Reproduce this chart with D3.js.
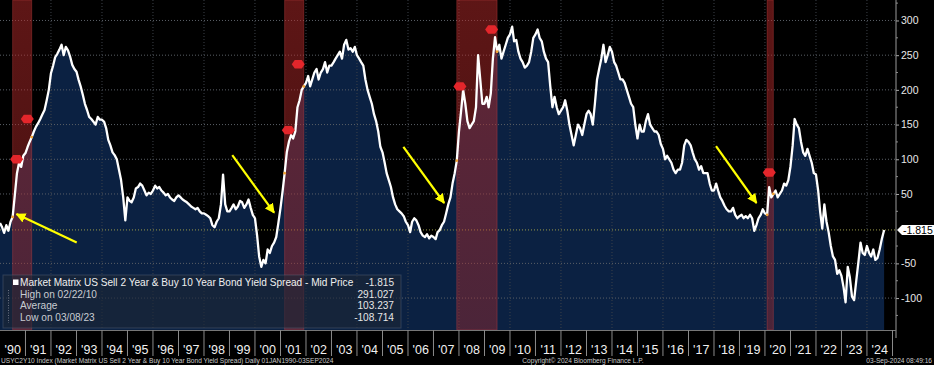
<!DOCTYPE html>
<html>
<head>
<meta charset="utf-8">
<script src="https://cdn.jsdelivr.net/npm/d3@7"></script>
<style>
body { margin: 0; background: #000; }
svg { display: block; font-family: "Liberation Sans", Arial, sans-serif; }
</style>
</head>
<body>
<div id="chart"></div>
<script>
// USYC2Y10 spread, bp, monthly readings (Jan of each decade onwards)
var spread1990s = [
    8, 2, -6, 5, -3, 10, 17, 48, 80, 95, 89, 105,
    109, 118, 125, 132, 140, 147, 152, 158, 165, 171, 185, 200,
    224, 235, 247, 252, 258, 265, 250, 262, 257, 248, 236, 230,
    226, 214, 205, 193, 180, 171, 161, 158, 154, 150, 161, 157,
    157, 154, 145, 128, 120, 110, 106, 100, 85, 70, 45, 12,
    45, 40, 38, 45, 58, 60, 65, 62, 55, 48, 52, 50,
    55, 62, 58, 60, 55, 52, 48, 50, 45, 42, 40, 45,
    48, 45, 42, 40, 38, 35, 32, 30, 28, 30, 25, 22,
    22, 20, 18, 15, 5, 2, 10, 15, 35, 78, 35, 25,
    25, 30, 35, 28, 32, 40, 38, 30, 35, 42, 30, 20
];
var spread2000s = [
    15, -10, -40, -55, -45, -50, -30, -35, -25, -20, -12, 8,
    30, 55, 80, 110, 125, 135, 130, 140, 175, 185, 200, 205,
    210, 220, 205, 215, 225, 230, 215, 225, 230, 240, 225, 235,
    235, 240, 245, 250, 255, 245, 265, 272, 258, 260, 255, 262,
    250, 245, 240, 235, 215, 200, 190, 180, 165, 155, 140, 118,
    110, 95, 80, 70, 60, 45, 35, 28, 25, 22, 18, 10,
    5, -5, 10, 15, 12, 5, -5, -10, -12, -8, -14, -10,
    -12, -15, -5, -2, 5, 10, 22, 35, 45, 65, 80, 98,
    140, 170, 200, 180, 155, 145, 150, 155, 175, 250, 215, 180,
    180, 190, 175, 195, 245, 276, 255, 265, 245, 255, 265, 275
];
var spread2010s = [
    280, 291, 270, 272, 255, 245, 240, 232, 235, 240, 255, 275,
    280, 287, 275, 270, 255, 245, 240, 205, 175, 190, 175, 165,
    170, 175, 185, 170, 150, 135, 120, 135, 150, 145, 135, 150,
    165, 170, 165, 150, 180, 215, 230, 245, 265, 240, 250, 262,
    255, 240, 235, 225, 215, 215, 210, 200, 190, 180, 175, 150,
    130, 150, 140, 140, 155, 165, 150, 145, 140, 140, 135, 122,
    115, 100, 105, 100, 95, 85, 80, 85, 85, 95, 120, 128,
    125, 120, 110, 100, 95, 85, 90, 80, 80, 80, 65, 55,
    55, 65, 55, 45, 40, 33, 28, 25, 25, 30, 20, 15,
    18, 20, 15, 18, 15, 20, 15, -3, 5, 15, 20, 28
];
var spread2020s = [
    22, 20, 60, 45, 50, 55, 45, 50, 55, 65, 62, 70,
    90, 120, 158, 150, 145, 125, 110, 105, 115, 105, 95, 80,
    78, 55, 25, 0, 35, 10, -5, -25, -40, -45, -65, -60,
    -68, -85, -106, -55, -70, -98, -103, -75, -48, -20, -35, -38,
    -25, -35, -40, -30, -45, -42, -30, -15, -1.815
];

var yTicks = [300, 250, 200, 150, 100, 50, -50, -100];
var yearLabels = ["'90","'91","'92","'93","'94","'95","'96","'97","'98","'99","'00","'01","'02",
    "'03","'04","'05","'06","'07","'08","'09","'10","'11","'12","'13","'14","'15","'16","'17",
    "'18","'19","'20","'21","'22","'23","'24"];

var recessions = [["1990-07-01", "1991-03-31"], ["2001-03-01", "2001-11-30"],
    ["2007-12-01", "2009-06-30"], ["2020-02-01", "2020-04-30"]];
var recMarkers = [["1990-08-27", 100], ["1991-01-27", 158], ["2001-04-23", 142], ["2001-09-12", 237],
    ["2008-01-15", 205], ["2009-04-13", 287], ["2020-03-03", 81]];
// yellow arrows: [from date, from value, to date, to value]
var arrows = [["1993-01-04", -20, "1990-08-25", 21], ["1999-02-10", 106, "2000-10-01", 23],
    ["2005-10-27", 118, "2007-06-03", 37], ["2018-01-30", 119, "2019-09-02", 37]];

var lastPrice = -1.815;
var legendRows = ["Market Matrix US Sell 2 Year & Buy 10 Year Bond Yield Spread - Mid Price",
    "High on 02/22/10", "Average", "Low on 03/08/23"];
var legendValues = ["-1.815", "291.027", "103.237", "-108.714"];

/*---------------------------------------------------------------------------------------*/

var parse = d3.timeParse("%Y-%m-%d");
var data = [];
[[1990, spread1990s], [2000, spread2000s], [2010, spread2010s], [2020, spread2020s]].forEach(function (p) {
    p[1].forEach(function (v, i) {
        data.push({ date: new Date(p[0], i, 1), value: v });
    });
});
data[data.length - 1].date = parse("2024-09-03");

var width = 896, height = 330;

var svg = d3.select("#chart").append("svg")
    .attr("width", 934)
    .attr("height", 365);

svg.append("rect").attr("width", 934).attr("height", 365).attr("fill", "#000");

var x = d3.scaleTime()
    .domain([new Date(1990, 0, 1), new Date(2025, 0, 1)])
    .range([0, 892.5]);

var y = d3.scaleLinear()
    .domain([-146, 329.5])
    .range([height, 0]);

var defs = svg.append("defs");
var grad = defs.append("linearGradient").attr("id", "recGrad")
    .attr("x1", 0).attr("x2", 0).attr("y1", 0).attr("y2", 1);
grad.append("stop").attr("offset", "0%").attr("stop-color", "rgb(180,42,42)").attr("stop-opacity", 0.52);
grad.append("stop").attr("offset", "100%").attr("stop-color", "rgb(180,42,42)").attr("stop-opacity", 0.38);

// area under the line
var area = d3.area()
    .x(function (d) { return x(d.date); })
    .y0(height)
    .y1(function (d) { return y(d.value); });

svg.append("path")
    .datum(data)
    .attr("fill", "#0b2142")
    .attr("d", area);

// grid
svg.append("g")
    .attr("class", "grid")
    .selectAll("line")
    .data(yTicks)
    .enter().append("line")
    .attr("x1", 0).attr("x2", width)
    .attr("y1", function (d) { return y(d); })
    .attr("y2", function (d) { return y(d); })
    .attr("stroke", "#5a5f66")
    .attr("stroke-width", 1)
    .attr("stroke-dasharray", "1,2");

svg.append("g")
    .attr("class", "grid")
    .selectAll("line")
    .data(d3.range(1992, 2025, 2))
    .enter().append("line")
    .attr("x1", function (d) { return x(new Date(d, 0, 1)); })
    .attr("x2", function (d) { return x(new Date(d, 0, 1)); })
    .attr("y1", 0).attr("y2", height)
    .attr("stroke", "#3c4048")
    .attr("stroke-width", 1)
    .attr("stroke-dasharray", "1,2");

// last price line
svg.append("line")
    .attr("x1", 0).attr("x2", width)
    .attr("y1", y(lastPrice)).attr("y2", y(lastPrice))
    .attr("stroke", "#9a9a48")
    .attr("stroke-dasharray", "1,2");

// recession bands
svg.append("g")
    .selectAll("rect")
    .data(recessions)
    .enter().append("rect")
    .attr("x", function (d) { return x(parse(d[0])); })
    .attr("width", function (d) { return x(parse(d[1])) - x(parse(d[0])); })
    .attr("y", 0)
    .attr("height", height)
    .attr("fill", "url(#recGrad)")
    .attr("stroke", "rgba(210,70,70,0.35)")
    .attr("stroke-width", 1);

// spread line
var line = d3.line()
    .x(function (d) { return x(d.date); })
    .y(function (d) { return y(d.value); });

svg.append("path")
    .datum(data)
    .attr("fill", "none")
    .attr("stroke", "#fff")
    .attr("stroke-width", 2.3)
    .attr("stroke-linejoin", "round")
    .attr("d", line);

// small orange dots where recessions start / end
var bisect = d3.bisector(function (d) { return d.date; }).left;
var edges = [];
recessions.forEach(function (r) { edges.push(parse(r[0])); edges.push(parse(r[1])); });
svg.append("g")
    .selectAll("circle")
    .data(edges)
    .enter().append("circle")
    .attr("cx", function (d) { return x(d); })
    .attr("cy", function (d) { return y(data[Math.min(bisect(data, d), data.length - 1)].value); })
    .attr("r", 1.4)
    .attr("fill", "#f0a030");

// red event markers
svg.append("g")
    .selectAll("path")
    .data(recMarkers)
    .enter().append("path")
    .attr("transform", function (d) {
        return "translate(" + x(parse(d[0])) + "," + y(d[1]) + ")";
    })
    .attr("d", "M-6.5,0 L-3.5,-4.2 L3.5,-4.2 L6.5,0 L3.5,4.2 L-3.5,4.2 Z")
    .attr("fill", "#e3262b");

// yellow arrows
defs.append("marker")
    .attr("id", "head")
    .attr("viewBox", "0 0 10 10")
    .attr("refX", 9).attr("refY", 5)
    .attr("markerWidth", 4.5).attr("markerHeight", 4.5)
    .attr("markerUnits", "strokeWidth")
    .attr("orient", "auto")
    .append("path")
    .attr("d", "M0,0 L10,5 L0,10 Z")
    .attr("fill", "#ffff00");

svg.append("g")
    .selectAll("line")
    .data(arrows)
    .enter().append("line")
    .attr("x1", function (d) { return x(parse(d[0])); })
    .attr("y1", function (d) { return y(d[1]); })
    .attr("x2", function (d) { return x(parse(d[2])); })
    .attr("y2", function (d) { return y(d[3]); })
    .attr("stroke", "#ffff00")
    .attr("stroke-width", 2.2)
    .attr("marker-end", "url(#head)");

// legend box
var legend = svg.append("g").attr("class", "legend");
legend.append("rect")
    .attr("x", 3).attr("y", 275)
    .attr("width", 398).attr("height", 53)
    .attr("fill", "rgba(28,38,54,0.6)")
    .attr("stroke", "rgba(110,120,140,0.35)");

legend.append("rect")
    .attr("x", 13).attr("y", 279.5)
    .attr("width", 5.5).attr("height", 5.5)
    .attr("fill", "#fff");

legend.append("line")
    .attr("x1", 8.5).attr("x2", 8.5)
    .attr("y1", 290).attr("y2", 323)
    .attr("stroke", "#6a7080")
    .attr("stroke-dasharray", "1,1.5");

legend.selectAll(".lbl")
    .data(legendRows)
    .enter().append("text")
    .attr("class", "lbl")
    .attr("x", 20)
    .attr("y", function (d, i) { return 286 + i * 11.7; })
    .attr("font-size", "10.1px")
    .attr("fill", function (d, i) { return i == 0 ? "#f0f0f0" : "#c8ccd2"; })
    .text(function (d) { return d; });

legend.selectAll(".val")
    .data(legendValues)
    .enter().append("text")
    .attr("class", "val")
    .attr("x", 394)
    .attr("y", function (d, i) { return 286 + i * 11.7; })
    .attr("text-anchor", "end")
    .attr("font-size", "10.1px")
    .attr("fill", "#e6e6e6")
    .text(function (d) { return d; });

// right axis
var yAxis = d3.axisRight()
    .scale(y)
    .tickValues(yTicks)
    .tickSize(3)
    .tickPadding(2)
    .tickFormat(function (d) { return d; });

var yg = svg.append("g")
    .attr("class", "yAxis")
    .attr("transform", "translate(" + width + ",0)")
    .call(yAxis);
yg.select(".domain").remove();
yg.selectAll("line").attr("stroke", "#aaa");
yg.selectAll("text").attr("fill", "#e8e8e8").attr("font-size", "10.5px");

yg.selectAll(".minor")
    .data(d3.range(-125, 330, 50))
    .enter().append("line")
    .attr("class", "minor")
    .attr("x1", 0).attr("x2", 2)
    .attr("y1", function (d) { return y(d); })
    .attr("y2", function (d) { return y(d); })
    .attr("stroke", "#888");

svg.append("line")
    .attr("x1", width).attr("x2", width)
    .attr("y1", 0).attr("y2", 338)
    .attr("stroke", "#9a9a9a");

// last price tag
var ly = y(lastPrice);
svg.append("path")
    .attr("d", "M" + (width + 1) + "," + ly + " L" + (width + 6) + "," + (ly - 5) + " L934," + (ly - 5) +
        " L934," + (ly + 5) + " L" + (width + 6) + "," + (ly + 5) + " Z")
    .attr("fill", "#fff");
svg.append("text")
    .attr("x", width + 7)
    .attr("y", ly + 3.8)
    .attr("font-size", "10.5px")
    .attr("fill", "#000")
    .text(legendValues[0]);

// bottom axis: year separators + centred labels
svg.append("line")
    .attr("x1", 0).attr("x2", width)
    .attr("y1", height + 0.5).attr("y2", height + 0.5)
    .attr("stroke", "#777");

var years = d3.range(1990, 2025);
var xg = svg.append("g").attr("class", "xAxis");
xg.selectAll("line")
    .data(years.slice(1).concat([2025]))
    .enter().append("line")
    .attr("x1", function (d) { return x(new Date(d, 0, 1)); })
    .attr("x2", function (d) { return x(new Date(d, 0, 1)); })
    .attr("y1", height).attr("y2", 356)
    .attr("stroke", "#8a8a8a");

xg.selectAll("text")
    .data(years)
    .enter().append("text")
    .attr("x", function (d) { return (x(new Date(d, 0, 1)) + x(new Date(d + 1, 0, 1))) / 2; })
    .attr("y", 354)
    .attr("text-anchor", "middle")
    .attr("font-family", "'Liberation Sans Narrow', 'Liberation Sans', Arial, sans-serif")
    .attr("font-size", "12.5px")
    .attr("fill", "#f0f0f0")
    .text(function (d, i) { return yearLabels[i]; });

// footer
var foot = svg.append("g")
    .attr("font-family", "'Liberation Sans Narrow', 'Liberation Sans', Arial, sans-serif")
    .attr("font-size", "6.6px")
    .attr("fill", "#c8c8c8");
foot.append("text").attr("x", 1).attr("y", 362.5)
    .text("USYC2Y10 Index (Market Matrix US Sell 2 Year & Buy 10 Year Bond Yield Spread)  Daily 01JAN1990-03SEP2024");
foot.append("text").attr("x", 583).attr("y", 362.5).attr("text-anchor", "middle")
    .text("Copyright\u00a9 2024 Bloomberg Finance L.P.");
foot.append("text").attr("x", 932).attr("y", 362.5).attr("text-anchor", "end")
    .text("03-Sep-2024 08:49:16");
</script>
</body>
</html>
